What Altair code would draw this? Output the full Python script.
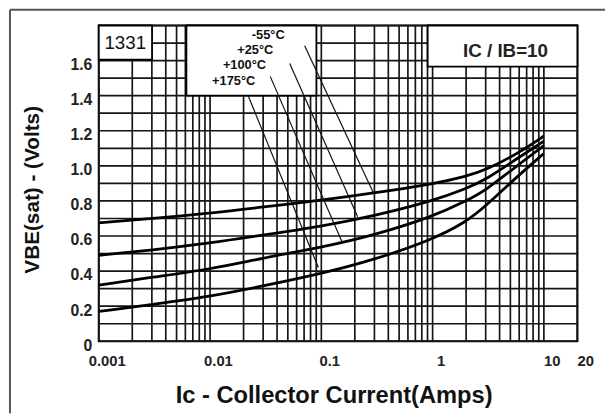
import altair as alt
import pandas as pd

# ---- data ----
ic = [0.001, 0.003, 0.01, 0.03, 0.1, 0.3, 1, 2, 3, 6, 10]
v_m55 = [0.675, 0.70, 0.73, 0.765, 0.805, 0.845, 0.895, 0.94, 0.975, 1.075, 1.17]
v_25 = [0.49, 0.52, 0.56, 0.605, 0.655, 0.715, 0.80, 0.87, 0.92, 1.05, 1.14]
v_100 = [0.32, 0.365, 0.41, 0.475, 0.535, 0.605, 0.71, 0.80, 0.86, 1.01, 1.115]
v_175 = [0.17, 0.21, 0.255, 0.315, 0.385, 0.465, 0.58, 0.68, 0.77, 0.95, 1.07]
series = ["-55°C", "+25°C", "+100°C", "+175°C"]

x_label_values = [0.001, 0.01, 0.1, 1, 10, 20]
y_label_values = [0, 0.2, 0.4, 0.6, 0.8, 1.0, 1.2, 1.4, 1.6]
x_grid = [d * k for d in [0.001, 0.01, 0.1, 1] for k in range(1, 10)] + [10, 20]
y_grid = [round(0.1 * i, 1) for i in range(0, 19)]

# legend (curve labels) text and leader lines
leg_text_x = [0.0333, 0.0255, 0.0204, 0.0163]
leg_text_y = [1.746, 1.662, 1.572, 1.482]
lead_x1 = [0.0708, 0.052, 0.0347, 0.0221]
lead_y1 = [1.685, 1.583, 1.51, 1.397]
lead_x2 = [0.294, 0.212, 0.153, 0.094]
lead_y2 = [0.845, 0.71, 0.569, 0.42]

# annotation boxes
box_x1 = [0.00613, 0.001, 0.903]
box_x2 = [0.0903, 0.00301, 20]
box_y1 = [1.40, 1.606, 1.566]
box_y2 = [1.8, 1.8, 1.8]

rows = []
for name, vals in zip(series, [v_m55, v_25, v_100, v_175]):
    for a, b in zip(ic, vals):
        rows.append({"x": a, "y": b, "s": name})
curves_df = pd.DataFrame(rows)

xs = alt.Scale(type="log", domain=[0.001, 20], nice=False)
ys = alt.Scale(domain=[0, 1.8], nice=False)
FONT = "Liberation Sans"
GRID = "#151515"

X_AX = alt.Axis(
    values=x_label_values, grid=False, ticks=False, domain=False,
    labelExpr="format(datum.value, '~g')", labelFont=FONT,
    labelFontSize=15, labelFontWeight="bold", labelColor="#222",
    labelPadding=13, labelOffset=8, labelFlush=False, labelOverlap=False,
    title="Ic - Collector Current(Amps)", titleFont=FONT,
    titleFontSize=24, titleFontWeight="bold", titleColor="#111",
    titleX=238, titleY=55, titleBaseline="middle", titleAlign="center")
Y_AX = alt.Axis(
    values=y_label_values, grid=False, ticks=False, domain=False,
    labelExpr="datum.value == 0 ? '0' : format(datum.value, '.1f')",
    labelFont=FONT, labelFontSize=16, labelFontWeight="bold",
    labelColor="#222", labelPadding=7, labelOffset=4, labelFlush=False,
    labelOverlap=False,
    title="VBE(sat) - (Volts)", titleFont=FONT, titleFontSize=21,
    titleFontWeight="bold", titleColor="#111", titleX=-67, titleY=166,
    titleBaseline="middle", titleAlign="center", titleAngle=270)


def X(field):
    return alt.X(field, type="quantitative", scale=xs, axis=X_AX)


def Y(field):
    return alt.Y(field, type="quantitative", scale=ys, axis=Y_AX)


vgrid = alt.Chart(pd.DataFrame({"x": x_grid})).mark_rule(
    color=GRID, strokeWidth=1.7
).encode(x=X("x"))

hgrid = alt.Chart(pd.DataFrame({"y": y_grid})).mark_rule(
    color=GRID, strokeWidth=1.7
).encode(y=Y("y"))

curves = alt.Chart(curves_df).mark_line(
    color="black", strokeWidth=2.8, interpolate="basis"
).encode(x=X("x"), y=Y("y"), detail="s:N")

boxes = alt.Chart(pd.DataFrame({"x": box_x1, "x2": box_x2, "y": box_y1, "y2": box_y2})).mark_rect(
    fill="white", stroke="black", strokeWidth=1.8
).encode(x=X("x"), x2="x2:Q", y=Y("y"), y2="y2:Q")

leg_text = alt.Chart(pd.DataFrame({"x": leg_text_x, "y": leg_text_y, "t": series})).mark_text(
    font=FONT, fontSize=13, fontWeight="bold", color="#111", align="center", baseline="middle"
).encode(x=X("x"), y=Y("y"), text="t:N")

leaders = alt.Chart(pd.DataFrame({"x": lead_x1, "y": lead_y1, "x2": lead_x2, "y2": lead_y2})).mark_rule(
    color="#111", strokeWidth=1.2
).encode(x=X("x"), x2="x2:Q", y=Y("y"), y2="y2:Q")

t1331 = alt.Chart(pd.DataFrame({"x": [0.00173], "y": [1.70], "t": ["1331"]})).mark_text(
    font=FONT, fontSize=19, color="#111", align="center", baseline="middle"
).encode(x=X("x"), y=Y("y"), text="t:N")

tratio = alt.Chart(pd.DataFrame({"x": [4.52], "y": [1.656], "t": ["IC / IB=10"]})).mark_text(
    font=FONT, fontSize=19, fontWeight="bold", color="#222", align="center", baseline="middle"
).encode(x=X("x"), y=Y("y"), text="t:N")

frame_left = alt.Chart(pd.DataFrame({"a": [0]})).mark_rule(color="#555", strokeWidth=2, clip=False).encode(
    x=alt.value(-90), y=alt.value(-16), y2=alt.value(393))
frame_top = alt.Chart(pd.DataFrame({"a": [0]})).mark_rule(color="#555", strokeWidth=2, clip=False).encode(
    x=alt.value(-90), x2=alt.value(513), y=alt.value(-16))

chart = alt.layer(
    vgrid, hgrid, curves, boxes, leg_text, leaders, t1331, tratio, frame_left, frame_top
).properties(
    width=485, height=320,
    autosize=alt.AutoSizeParams(type="none"),
    padding={"left": 92, "top": 15, "right": 28, "bottom": 73},
    background="white",
).configure_view(stroke="black", strokeWidth=2)

chart.save("out.html", embed_options={"renderer": "svg", "actions": False})
